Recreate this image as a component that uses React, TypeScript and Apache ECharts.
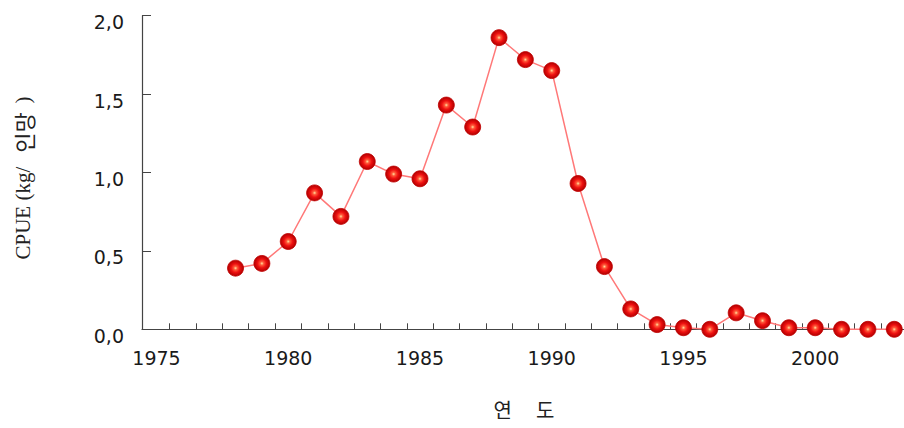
import React, { useEffect, useRef } from "react";
import * as echarts from "echarts";

const years = [1978, 1979, 1980, 1981, 1982, 1983, 1984, 1985, 1986, 1987, 1988, 1989, 1990, 1991, 1992, 1993, 1994, 1995, 1996, 1997, 1998, 1999, 2000, 2001, 2002, 2003];
const cpue = [0.39, 0.42, 0.56, 0.87, 0.72, 1.07, 0.99, 0.96, 1.43, 1.29, 1.86, 1.72, 1.65, 0.93, 0.4, 0.13, 0.03, 0.01, 0.0, 0.105, 0.055, 0.01, 0.01, 0.0, 0.0, 0.0];
const xLabelYears = [1975, 1980, 1985, 1990, 1995, 2000];
const xTickYears = [1975.5, 1976.5, 1977.5, 1978.5, 1979.5, 1980.5, 1981.5, 1982.5, 1983.5, 1984.5, 1985.5, 1986.5, 1987.5, 1988.5, 1989.5, 1990.5, 1991.5, 1992.5, 1993.5, 1994.5, 1995.5, 1996.5, 1997.5, 1998.5, 1999.5, 2000.5, 2001.5, 2002.5];
const yAxisTitleEn1 = "CPUE (kg/ ";
const yAxisTitleKo = "인망";
const yAxisTitleEn2 = ")";
const xAxisTitleA = "연";
const xAxisTitleB = "도";

export default function App() {
  const ref = useRef<HTMLDivElement>(null);
  useEffect(() => {
    if (!ref.current) return;
    const chart = echarts.init(ref.current, undefined, { renderer: "svg" });
    const markerColor = new echarts.graphic.RadialGradient(0.5, 0.5, 0.5, [
      { offset: 0, color: "#ffe2a0" },
      { offset: 0.22, color: "#ff5a3a" },
      { offset: 0.55, color: "#ee1010" },
      { offset: 1, color: "#b00000" },
    ]);
    chart.setOption({
      animation: false,
      backgroundColor: "#ffffff",
      grid: { left: 142, right: 0, top: 15.7, bottom: 98.7, containLabel: false },
      xAxis: {
        type: "value",
        min: 1974.45,
        max: 2003.37,
        splitLine: { show: false },
        axisLine: { show: true, onZero: false, lineStyle: { color: "#444", width: 1.2 } },
        axisTick: { show: true, inside: true, length: 6, customValues: xTickYears, lineStyle: { color: "#444" } },
        axisLabel: {
          customValues: xLabelYears,
          margin: 19,
          fontFamily: "DejaVu Sans",
          fontSize: 19,
          color: "#1a1a1a",
          formatter: (v: number) => String(Math.round(v)),
        },
      },
      yAxis: {
        type: "value",
        min: 0,
        max: 2,
        interval: 0.5,
        splitLine: { show: false },
        axisLine: { show: true, lineStyle: { color: "#444", width: 1.2 } },
        axisTick: { show: true, inside: true, length: 9, lineStyle: { color: "#444" } },
        axisLabel: {
          margin: 18,
          fontFamily: "DejaVu Sans",
          fontSize: 19,
          color: "#1a1a1a",
          verticalAlign: "top",
          lineHeight: 13,
          formatter: (v: number) => v.toFixed(1).replace(".", ","),
        },
      },
      graphic: [
        {
          type: "text",
          x: 23,
          y: 178,
          rotation: Math.PI / 2,
          style: {
            text: "{en|" + yAxisTitleEn1 + "}{ko|" + yAxisTitleKo + "}{en|" + yAxisTitleEn2 + "}",
            align: "center",
            verticalAlign: "middle",
            fill: "#222",
            rich: {
              en: { fontFamily: "Liberation Serif", fontSize: 21, fill: "#222" },
              ko: { fontFamily: "Noto Sans CJK KR", fontSize: 22, fill: "#222", width: 58, align: "center" },
            },
          },
        },
        {
          type: "text",
          x: 524,
          y: 409,
          style: {
            text: "{k|" + xAxisTitleA + "}{s| }{k|" + xAxisTitleB + "}",
            align: "center",
            verticalAlign: "middle",
            fill: "#222",
            rich: {
              k: { fontFamily: "Noto Sans CJK KR", fontSize: 20, fill: "#222" },
              s: { fontSize: 20, width: 24 },
            },
          },
        },
      ],
      series: [
        {
          type: "line",
          data: years.map((y, i) => [y, cpue[i]]),
          symbol: "circle",
          symbolSize: 16,
          lineStyle: { color: "#ff7878", width: 1.5 },
          itemStyle: { color: markerColor, borderColor: "#c00000", borderWidth: 0.8 },
        },
      ],
    });
    return () => chart.dispose();
  }, []);
  return <div ref={ref} style={{ position: "fixed", left: 0, top: 0, width: 904, height: 428 }} />;
}
